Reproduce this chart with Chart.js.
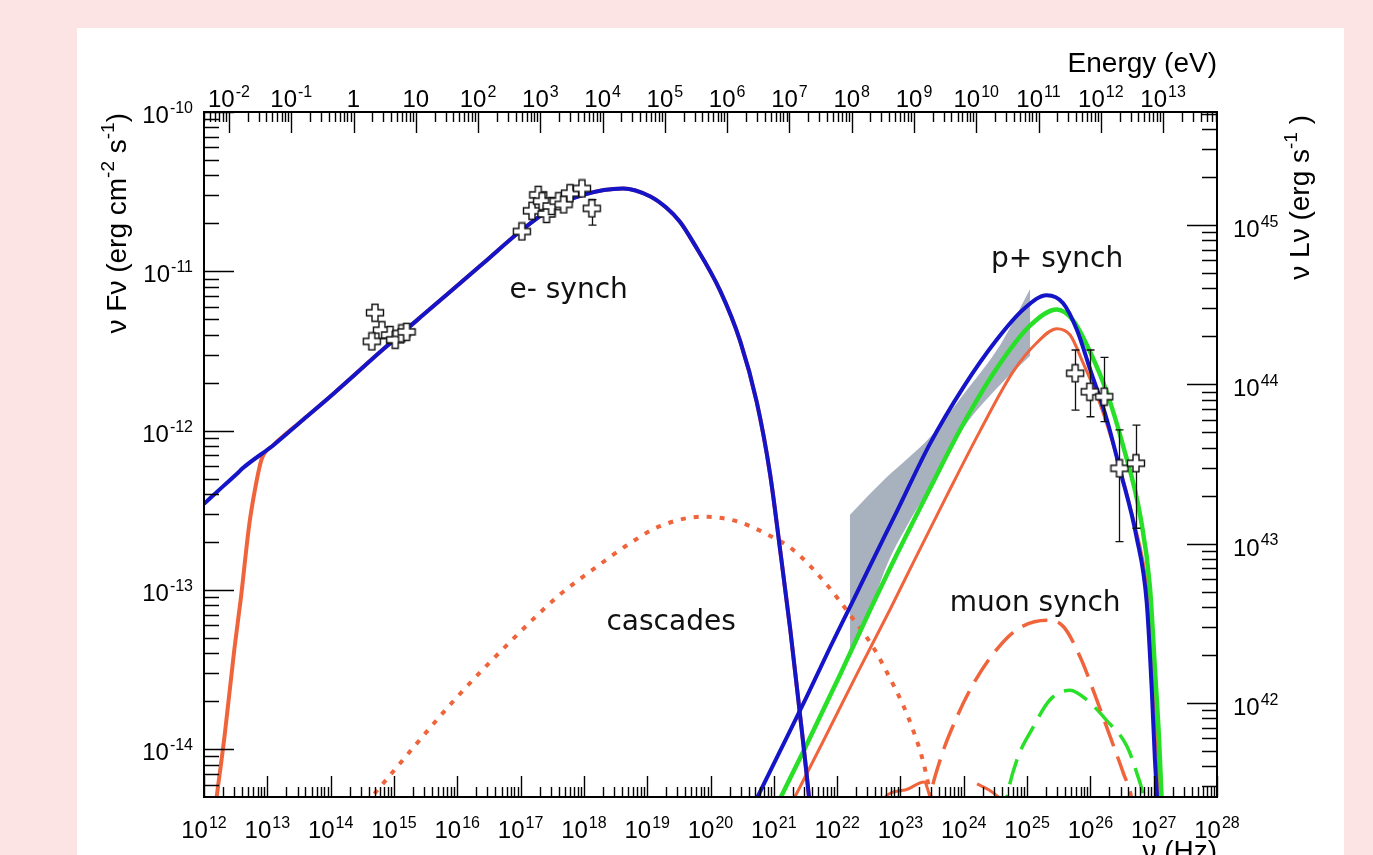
<!DOCTYPE html>
<html lang="en">
<head>
<meta charset="utf-8">
<title>Broadband SED</title>
<script src="https://cdn.jsdelivr.net/npm/chart.js@4.4.1/dist/chart.umd.min.js"></script>
<style>
  html, body { margin: 0; padding: 0; background: #fde4e4; overflow: hidden; }
  canvas { display: block; }
</style>
</head>
<body>
<canvas id="sed" width="1373" height="855"></canvas>
<script>
// Everything is in log10: frequency in Hz, flux nuFnu in erg cm^-2 s^-1.
const NU_RANGE = [12, 28];
const FLUX_RANGE = [-14.3, -10];
const ENERGY_RANGE = [-2.401, 13.866];   // top axis, log10(E / eV)
const LUM_RANGE = [41.409, 45.709];      // right axis, log10(nuLnu / erg s^-1)

const nuTickExp = [12, 13, 14, 15, 16, 17, 18, 19, 20, 21, 22, 23, 24, 25, 26, 27, 28];
const fluxTickExp = [-10, -11, -12, -13, -14];
const energyTickExp = [-2, -1, 0, 1, 2, 3, 4, 5, 6, 7, 8, 9, 10, 11, 12, 13];
const lumTickExp = [42, 43, 44, 45];

// electron synchrotron, blue model
const eSynchBlueNu = [12.0, 12.3, 12.55, 12.6, 13.1, 13.57, 14.04, 14.83, 15.62, 16.41, 16.99, 17.47, 17.99, 18.62, 19.05, 19.3, 19.52, 19.73, 20.15, 20.47, 20.73, 20.94, 21.1, 21.26, 21.39, 21.55, 21.6];
const eSynchBlueF = [-12.46, -12.35, -12.26, -12.24, -12.09, -11.93, -11.77, -11.49, -11.22, -10.95, -10.75, -10.61, -10.52, -10.48, -10.53, -10.6, -10.69, -10.82, -11.12, -11.44, -11.82, -12.27, -12.75, -13.25, -13.70, -14.28, -14.5];

// electron synchrotron, red model (cuts off at low frequency)
const eSynchRedNu = [12.2, 12.33, 12.48, 12.58, 12.715, 12.81, 12.91, 13.1, 13.57, 14.04, 14.83, 15.62, 16.41, 16.99, 17.47, 17.99, 18.62, 19.05, 19.3, 19.52, 19.73, 20.15, 20.47, 20.73, 20.94, 21.1, 21.26, 21.39, 21.55, 21.6];
const eSynchRedF = [-14.3, -13.9, -13.37, -13.06, -12.59, -12.36, -12.18, -12.09, -11.93, -11.77, -11.49, -11.22, -10.95, -10.75, -10.61, -10.52, -10.48, -10.53, -10.6, -10.69, -10.82, -11.12, -11.44, -11.82, -12.27, -12.75, -13.25, -13.70, -14.28, -14.5];

// pair cascades
const cascadeNu = [14.69, 15.98, 16.8, 17.62, 18.15, 18.68, 19.2, 19.89, 20.42, 20.89, 21.31, 21.8, 22.23, 22.57, 22.79, 23.05, 23.2, 23.34, 23.44, 23.5];
const cascadeF = [-14.28, -13.68, -13.34, -13.03, -12.87, -12.72, -12.6, -12.54, -12.57, -12.65, -12.75, -12.95, -13.17, -13.36, -13.52, -13.73, -13.88, -14.05, -14.22, -14.36];

// proton synchrotron, three models
const pSynchBlueNu = [20.73, 21.1, 21.52, 21.89, 22.2, 22.47, 22.94, 23.47, 23.99, 24.52, 24.94, 25.31, 25.57, 25.79, 26.0, 26.26, 26.47, 26.73, 26.89, 26.97, 27.02, 27.053, 27.08];
const pSynchBlueF = [-14.31, -14.01, -13.67, -13.36, -13.11, -12.89, -12.51, -12.08, -11.73, -11.43, -11.24, -11.15, -11.2, -11.37, -11.62, -11.93, -12.25, -12.67, -13.08, -13.63, -14.07, -14.3, -14.5];

const pSynchGreenNu = [21.1, 21.52, 22.05, 22.41, 22.94, 23.47, 23.99, 24.52, 25.05, 25.47, 25.73, 26.0, 26.26, 26.52, 26.79, 26.94, 27.02, 27.085, 27.124, 27.15];
const pSynchGreenF = [-14.31, -13.97, -13.53, -13.22, -12.78, -12.36, -11.96, -11.61, -11.34, -11.24, -11.31, -11.51, -11.76, -12.1, -12.54, -12.98, -13.5, -13.94, -14.3, -14.5];

const pSynchRedNu = [21.32, 21.78, 22.31, 22.84, 23.2, 23.73, 24.26, 24.78, 25.15, 25.47, 25.68, 25.89, 26.15, 26.42, 26.68, 26.89, 26.995, 27.053, 27.093, 27.12];
const pSynchRedF = [-14.31, -13.95, -13.53, -13.12, -12.83, -12.41, -12.0, -11.63, -11.45, -11.36, -11.4, -11.58, -11.83, -12.17, -12.56, -12.98, -13.5, -13.94, -14.3, -14.5];

// muon synchrotron
const muonRedNu = [23.42, 23.467, 23.625, 23.889, 24.152, 24.467, 24.837, 25.311, 25.573, 25.837, 26.101, 26.311, 26.521, 26.653, 26.7];
const muonRedF = [-14.45, -14.31, -14.07, -13.8, -13.59, -13.4, -13.25, -13.19, -13.23, -13.42, -13.69, -13.92, -14.15, -14.31, -14.45];

const muonGreenNu = [24.63, 24.679, 24.837, 25.099, 25.363, 25.679, 25.943, 26.259, 26.575, 26.733, 26.837, 26.87];
const muonGreenF = [-14.45, -14.31, -14.07, -13.86, -13.69, -13.63, -13.69, -13.82, -13.98, -14.15, -14.31, -14.45];

// red total near the floor of the plot (null = gap)
const redFloorNu = [22.68, 22.741, 23.073, 23.373, 23.483, 23.9, 24.21, 24.40, 24.589];
const redFloorF = [-14.4, -14.306, -14.256, -14.206, -14.319, null, -14.218, -14.256, -14.312];

// gamma-ray butterfly
const bandNu = [22.2, 22.44, 22.79, 23.1, 23.47, 24.0, 24.58, 25.05];
const bandUpper = [-12.53, -12.43, -12.29, -12.18, -12.04, -11.77, -11.46, -11.11];
const bandLower = [-13.43, -13.22, -12.84, -12.6, -12.35, -11.98, -11.71, -11.53];

// observations
const opticalNu = [14.70, 14.81, 14.65, 14.94, 15.02, 15.12, 15.20];
const opticalF = [-11.26, -11.37, -11.44, -11.40, -11.43, -11.39, -11.38];

const xrayNu = [17.02, 17.18, 17.28, 17.34, 17.41, 17.49, 17.60, 17.68, 17.78, 17.97, 18.125];
const xrayF = [-10.75, -10.62, -10.52, -10.56, -10.64, -10.59, -10.56, -10.58, -10.51, -10.48, -10.605];
const xrayErrLow = [null, null, null, null, null, null, null, null, null, null, -10.71];
const xrayErrHigh = [null, null, null, null, null, null, null, null, null, null, -10.55];

const tevNu = [25.76, 25.99, 26.22, 26.46, 26.72];
const tevF = [-11.64, -11.756, -11.787, -12.237, -12.205];
const tevErrLow = [-11.871, -11.913, -11.944, -12.697, -12.613];
const tevErrHigh = [-11.494, -11.494, -11.54, -11.996, -11.965];

const notes = [
  { text: 'e- synch', nu: 17.76, f: -11.17 },
  { text: 'p+ synch', nu: 25.475, f: -10.972 },
  { text: 'cascades', nu: 19.378, f: -13.25 },
  { text: 'muon synch', nu: 25.128, f: -13.135 }
];

const ORANGE = '#f0643c';
const BLUE = '#1414c8';
const GREEN = '#28e028';
const BAND = '#a8b2bf';
const AXIS_FONT = '"Liberation Sans", Arial, Helvetica, sans-serif';
const NOTE_FONT = '"DejaVu Sans", Verdana, sans-serif';
const LABEL_PX = 24;
const TITLE_PX = 28;

const zip = (xs, ys) => xs.map((x, i) => ({ x, y: ys[i] }));

function crossMarker(size) {
  const c = document.createElement('canvas');
  c.width = c.height = size;
  const g = c.getContext('2d');
  const a = Math.round(size / 3), b = size - a, m = 1.5, e = size - 1.5;
  g.beginPath();
  g.moveTo(a, m); g.lineTo(b, m); g.lineTo(b, a); g.lineTo(e, a); g.lineTo(e, b);
  g.lineTo(b, b); g.lineTo(b, e); g.lineTo(a, e); g.lineTo(a, b); g.lineTo(m, b);
  g.lineTo(m, a); g.lineTo(a, a); g.closePath();
  g.fillStyle = '#fff';
  g.fill();
  g.strokeStyle = '#111';
  g.lineWidth = 1.4;
  g.stroke();
  return c;
}
const marker = crossMarker(20);

function curve(xs, ys, color, width, dash) {
  return {
    data: zip(xs, ys),
    borderColor: color,
    borderWidth: width,
    borderDash: dash || [],
    borderCapStyle: 'butt',
    pointRadius: 0,
    fill: false,
    spanGaps: false,
    cubicInterpolationMode: 'monotone',
    clip: 0
  };
}

function points(xs, ys, lo, hi) {
  return {
    data: zip(xs, ys),
    showLine: false,
    pointStyle: marker,
    pointRadius: 10,
    errLow: lo,
    errHigh: hi,
    clip: 0
  };
}

function logTicks(lo, hi) {
  const out = [];
  for (let n = Math.floor(lo); n <= Math.ceil(hi); n++) {
    for (let k = 1; k <= 9; k++) {
      const v = n + Math.log10(k);
      if (v >= lo - 1e-6 && v <= hi + 1e-6) out.push({ v, major: k === 1 });
    }
  }
  return out;
}

function powLabel(ctx, base, exp, x, y, align) {
  const expPx = Math.round(LABEL_PX * 0.68);
  ctx.font = `${LABEL_PX}px ${AXIS_FONT}`;
  const wb = ctx.measureText(base).width;
  ctx.font = `${expPx}px ${AXIS_FONT}`;
  const we = exp ? ctx.measureText(exp).width + 1 : 0;
  const w = wb + we;
  const x0 = align === 'center' ? x - w / 2 : align === 'right' ? x - w : x;
  ctx.font = `${LABEL_PX}px ${AXIS_FONT}`;
  ctx.fillText(base, x0, y);
  if (exp) {
    ctx.font = `${expPx}px ${AXIS_FONT}`;
    ctx.fillText(exp, x0 + wb + 1, y - LABEL_PX * 0.42);
  }
}

// title made of normal and superscript pieces
function runWidth(ctx, parts) {
  let w = 0;
  parts.forEach(([t, sup]) => {
    ctx.font = `${sup ? Math.round(TITLE_PX * 0.68) : TITLE_PX}px ${AXIS_FONT}`;
    w += ctx.measureText(t).width;
  });
  return w;
}
function drawRun(ctx, parts, x, y) {
  let cx = x;
  parts.forEach(([t, sup]) => {
    ctx.font = `${sup ? Math.round(TITLE_PX * 0.68) : TITLE_PX}px ${AXIS_FONT}`;
    ctx.fillText(t, cx, sup ? y - TITLE_PX * 0.42 : y);
    cx += ctx.measureText(t).width;
  });
}

const fluxTitle = [['ν Fν (erg cm', 0], ['-2', 1], [' s', 0], ['-1', 1], [')', 0]];
const lumTitle = [['ν Lν (erg s', 0], ['-1', 1], [' )', 0]];

const errorBars = {
  id: 'errorBars',
  beforeDatasetDraw(chart, args) {
    const ds = chart.data.datasets[args.index];
    if (!ds.errLow) return;
    const { ctx } = chart;
    const sx = chart.scales.x, sy = chart.scales.y;
    ctx.save();
    ctx.strokeStyle = '#111';
    ctx.lineWidth = 1.3;
    ctx.beginPath();
    ds.data.forEach((p, i) => {
      if (ds.errLow[i] == null) return;
      const px = Math.round(sx.getPixelForValue(p.x)) + 0.5;
      const y1 = sy.getPixelForValue(ds.errLow[i]);
      const y2 = sy.getPixelForValue(ds.errHigh[i]);
      ctx.moveTo(px, y1); ctx.lineTo(px, y2);
      ctx.moveTo(px - 4, y1); ctx.lineTo(px + 4, y1);
      ctx.moveTo(px - 4, y2); ctx.lineTo(px + 4, y2);
    });
    ctx.stroke();
    ctx.restore();
  }
};

const frameAndAxes = {
  id: 'frameAndAxes',
  beforeDraw(chart) {
    const { ctx, width, height } = chart;
    ctx.save();
    ctx.fillStyle = '#fde4e4';
    ctx.fillRect(0, 0, width, height);
    ctx.fillStyle = '#ffffff';
    ctx.fillRect(77, 28, 1267, height - 28);
    ctx.restore();
  },
  afterDraw(chart) {
    const { ctx, chartArea: a } = chart;
    const { x: sx, y: sy, xE: se, yL: sl } = chart.scales;
    ctx.save();
    ctx.strokeStyle = '#000';
    ctx.fillStyle = '#000';

    // inward ticks on all four sides
    ctx.lineWidth = 1.4;
    ctx.beginPath();
    logTicks(sx.min, sx.max).forEach(t => {
      const p = Math.round(sx.getPixelForValue(t.v)) + 0.5;
      ctx.moveTo(p, a.bottom); ctx.lineTo(p, a.bottom - (t.major ? 21 : 10));
    });
    logTicks(se.min, se.max).forEach(t => {
      const p = Math.round(se.getPixelForValue(t.v)) + 0.5;
      ctx.moveTo(p, a.top); ctx.lineTo(p, a.top + (t.major ? 21 : 10));
    });
    logTicks(sy.min, sy.max).forEach(t => {
      const p = Math.round(sy.getPixelForValue(t.v)) + 0.5;
      ctx.moveTo(a.left, p); ctx.lineTo(a.left + (t.major ? 30 : 15), p);
    });
    logTicks(sl.min, sl.max).forEach(t => {
      const p = Math.round(sl.getPixelForValue(t.v)) + 0.5;
      ctx.moveTo(a.right, p); ctx.lineTo(a.right - (t.major ? 30 : 15), p);
    });
    ctx.stroke();

    ctx.lineWidth = 2;
    ctx.strokeRect(a.left, a.top, a.width, a.height);

    // tick labels
    ctx.textAlign = 'left';
    ctx.textBaseline = 'alphabetic';
    nuTickExp.forEach(n => powLabel(ctx, '10', String(n), sx.getPixelForValue(n), a.bottom + 41, 'center'));
    energyTickExp.forEach(n => {
      const base = n === 0 ? '1' : '10';
      const exp = n === 0 || n === 1 ? '' : String(n);
      powLabel(ctx, base, exp, se.getPixelForValue(n), a.top - 5, 'center');
    });
    fluxTickExp.forEach(n => powLabel(ctx, '10', String(n), a.left - 11, sy.getPixelForValue(n) + 11, 'right'));
    lumTickExp.forEach(n => powLabel(ctx, '10', String(n), a.right + 16, sl.getPixelForValue(n) + 12, 'left'));

    // axis titles
    ctx.font = `${TITLE_PX}px ${AXIS_FONT}`;
    ctx.textAlign = 'right';
    ctx.fillText('Energy (eV)', a.right, a.top - 40);
    ctx.fillText('ν (Hz)', a.right, a.bottom + 63);
    ctx.textAlign = 'left';

    let w = runWidth(ctx, fluxTitle);
    ctx.save();
    ctx.translate(126, a.top + 1);
    ctx.rotate(-Math.PI / 2);
    drawRun(ctx, fluxTitle, -w, 0);
    ctx.restore();

    w = runWidth(ctx, lumTitle);
    ctx.save();
    ctx.translate(1309, a.top + 3);
    ctx.rotate(-Math.PI / 2);
    drawRun(ctx, lumTitle, -w, 0);
    ctx.restore();

    // component labels
    ctx.font = `28px ${NOTE_FONT}`;
    ctx.fillStyle = '#111';
    ctx.textAlign = 'center';
    notes.forEach(n => ctx.fillText(n.text, sx.getPixelForValue(n.nu), sy.getPixelForValue(n.f)));
    ctx.restore();
  }
};

const datasets = [
  points(xrayNu, xrayF, xrayErrLow, xrayErrHigh),
  points(opticalNu, opticalF, null, null),
  points(tevNu, tevF, tevErrLow, tevErrHigh),
  curve(eSynchBlueNu, eSynchBlueF, BLUE, 4),
  curve(pSynchBlueNu, pSynchBlueF, BLUE, 4),
  curve(pSynchGreenNu, pSynchGreenF, GREEN, 4.5),
  curve(pSynchRedNu, pSynchRedF, ORANGE, 3),
  curve(eSynchRedNu, eSynchRedF, ORANGE, 4),
  curve(cascadeNu, cascadeF, ORANGE, 4, [5, 8]),
  curve(muonRedNu, muonRedF, ORANGE, 3.5, [26, 11]),
  curve(muonGreenNu, muonGreenF, GREEN, 3.5, [26, 11]),
  curve(redFloorNu, redFloorF, ORANGE, 3),
  Object.assign(curve(bandNu, bandUpper, BAND, 0), { fill: '+1', backgroundColor: BAND }),
  curve(bandNu, bandLower, BAND, 0)
];

new Chart(document.getElementById('sed'), {
  type: 'line',
  data: { datasets },
  options: {
    responsive: false,
    animation: false,
    devicePixelRatio: 1,
    layout: { padding: { left: 204, right: 156, top: 112, bottom: 58 } },
    plugins: { legend: { display: false }, tooltip: { enabled: false } },
    scales: {
      x: { type: 'linear', min: NU_RANGE[0], max: NU_RANGE[1], display: false },
      y: { type: 'linear', min: FLUX_RANGE[0], max: FLUX_RANGE[1], display: false },
      xE: { type: 'linear', axis: 'x', position: 'top', min: ENERGY_RANGE[0], max: ENERGY_RANGE[1], display: false },
      yL: { type: 'linear', axis: 'y', position: 'right', min: LUM_RANGE[0], max: LUM_RANGE[1], display: false }
    }
  },
  plugins: [frameAndAxes, errorBars]
});
</script>
</body>
</html>
